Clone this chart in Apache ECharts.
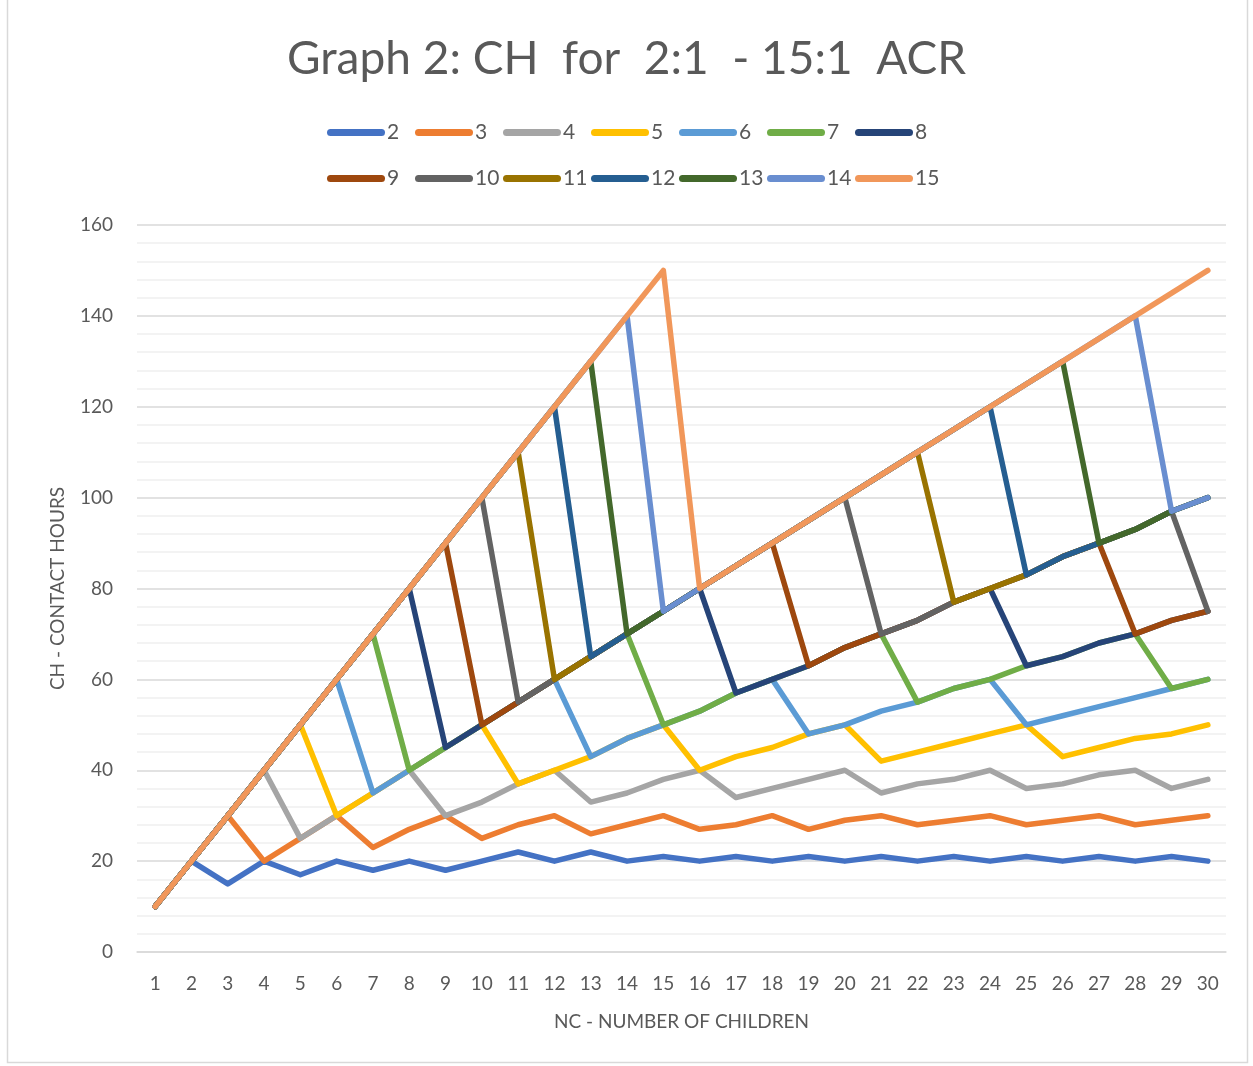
<!DOCTYPE html>
<html>
<head>
<meta charset="utf-8">
<script src="https://cdn.jsdelivr.net/npm/echarts@6/dist/echarts.min.js"></script>
<style>
html,body{margin:0;padding:0;background:#fff;}
#chart{width:1253px;height:1066px;}
</style>
</head>
<body>
<div id="chart"></div>
<script>
const categories = ['1','2','3','4','5','6','7','8','9','10','11','12','13','14','15','16','17','18','19','20','21','22','23','24','25','26','27','28','29','30'];
const seriesNames = ['2','3','4','5','6','7','8','9','10','11','12','13','14','15'];
const s2  = [10,20,15,20,17,20,18,20,18,20,22,20,22,20,21,20,21,20,21,20,21,20,21,20,21,20,21,20,21,20];
const s3  = [10,20,30,20,25,30,23,27,30,25,28,30,26,28,30,27,28,30,27,29,30,28,29,30,28,29,30,28,29,30];
const s4  = [10,20,30,40,25,30,35,40,30,33,37,40,33,35,38,40,34,36,38,40,35,37,38,40,36,37,39,40,36,38];
const s5  = [10,20,30,40,50,30,35,40,45,50,37,40,43,47,50,40,43,45,48,50,42,44,46,48,50,43,45,47,48,50];
const s6  = [10,20,30,40,50,60,35,40,45,50,55,60,43,47,50,53,57,60,48,50,53,55,58,60,50,52,54,56,58,60];
const s7  = [10,20,30,40,50,60,70,40,45,50,55,60,65,70,50,53,57,60,63,67,70,55,58,60,63,65,68,70,58,60];
const s8  = [10,20,30,40,50,60,70,80,45,50,55,60,65,70,75,80,57,60,63,67,70,73,77,80,63,65,68,70,73,75];
const s9  = [10,20,30,40,50,60,70,80,90,50,55,60,65,70,75,80,85,90,63,67,70,73,77,80,83,87,90,70,73,75];
const s10 = [10,20,30,40,50,60,70,80,90,100,55,60,65,70,75,80,85,90,95,100,70,73,77,80,83,87,90,93,97,75];
const s11 = [10,20,30,40,50,60,70,80,90,100,110,60,65,70,75,80,85,90,95,100,105,110,77,80,83,87,90,93,97,100];
const s12 = [10,20,30,40,50,60,70,80,90,100,110,120,65,70,75,80,85,90,95,100,105,110,115,120,83,87,90,93,97,100];
const s13 = [10,20,30,40,50,60,70,80,90,100,110,120,130,70,75,80,85,90,95,100,105,110,115,120,125,130,90,93,97,100];
const s14 = [10,20,30,40,50,60,70,80,90,100,110,120,130,140,75,80,85,90,95,100,105,110,115,120,125,130,135,140,97,100];
const s15 = [10,20,30,40,50,60,70,80,90,100,110,120,130,140,150,80,85,90,95,100,105,110,115,120,125,130,135,140,145,150];
const seriesData = [s2,s3,s4,s5,s6,s7,s8,s9,s10,s11,s12,s13,s14,s15];
const colors = ['#4472C4','#ED7D31','#A5A5A5','#FFC000','#5B9BD5','#70AD47','#264478','#9E480E','#636363','#997300','#255E91','#43682B','#698ED0','#F1975A'];
const yTicks = [0,20,40,60,80,100,120,140,160];

const FONT = 'Lato';
const TXT = '#595959';
const icon = 'path://M3.5,0H54.5A3.5,3.5,0,0,1,54.5,7H3.5A3.5,3.5,0,0,1,3.5,0Z';

// one legend entry per column, 7 columns x 2 rows
const legends = seriesNames.map((n, i) => ({
  data: [n],
  left: 327 + 88 * (i % 7),
  top: i < 7 ? 122 : 168,
  itemWidth: 58, itemHeight: 7, itemGap: 0, icon: icon,
  padding: 0,
  textStyle: {fontFamily: FONT, fontSize: 21, color: TXT, padding: [0,0,0,-3]}
}));

const chart = echarts.init(document.getElementById('chart'), null, {renderer: 'canvas'});
chart.setOption({
  animation: false,
  color: colors,
  title: {
    text: 'Graph 2: CH  for  2:1  - 15:1  ACR',
    left: 'center', top: 31,
    textStyle: {fontFamily: FONT, fontSize: 46, fontWeight: 'normal', color: TXT}
  },
  legend: legends,
  grid: {left: 137, right: 27, top: 225, bottom: 114},
  xAxis: {
    type: 'category', data: categories, boundaryGap: true,
    name: 'NC - NUMBER OF CHILDREN', nameLocation: 'middle', nameGap: 60,
    nameTextStyle: {fontFamily: FONT, fontSize: 19, color: TXT},
    axisLine: {lineStyle: {color: '#D9D9D9', width: 1.5}},
    axisTick: {show: false},
    axisLabel: {fontFamily: FONT, fontSize: 19, color: TXT, margin: 22, interval: 0}
  },
  yAxis: {
    type: 'value', min: yTicks[0], max: yTicks[yTicks.length-1], interval: 20,
    name: 'CH - CONTACT HOURS', nameLocation: 'middle', nameGap: 70,
    nameTextStyle: {fontFamily: FONT, fontSize: 19, color: TXT},
    axisLine: {show: false}, axisTick: {show: false},
    axisLabel: {fontFamily: FONT, fontSize: 19, color: TXT, margin: 24},
    splitLine: {lineStyle: {color: '#D9D9D9', width: 1.5}},
    minorTick: {show: false, splitNumber: 5},
    minorSplitLine: {show: true, lineStyle: {color: '#EFEFEF', width: 1.5}}
  },
  graphic: [{
    type: 'rect', shape: {x: 7.5, y: -2, width: 1240, height: 1064.5},
    style: {fill: 'none', stroke: '#D9D9D9', lineWidth: 1.5}, silent: true, z: -1
  }],
  series: seriesNames.map((n, i) => ({
    name: n, type: 'line', data: seriesData[i], symbol: 'none',
    lineStyle: {width: 5.5, cap: 'round', join: 'round', color: colors[i]},
    itemStyle: {color: colors[i]},
    emphasis: {disabled: true}
  }))
});
</script>
</body>
</html>
